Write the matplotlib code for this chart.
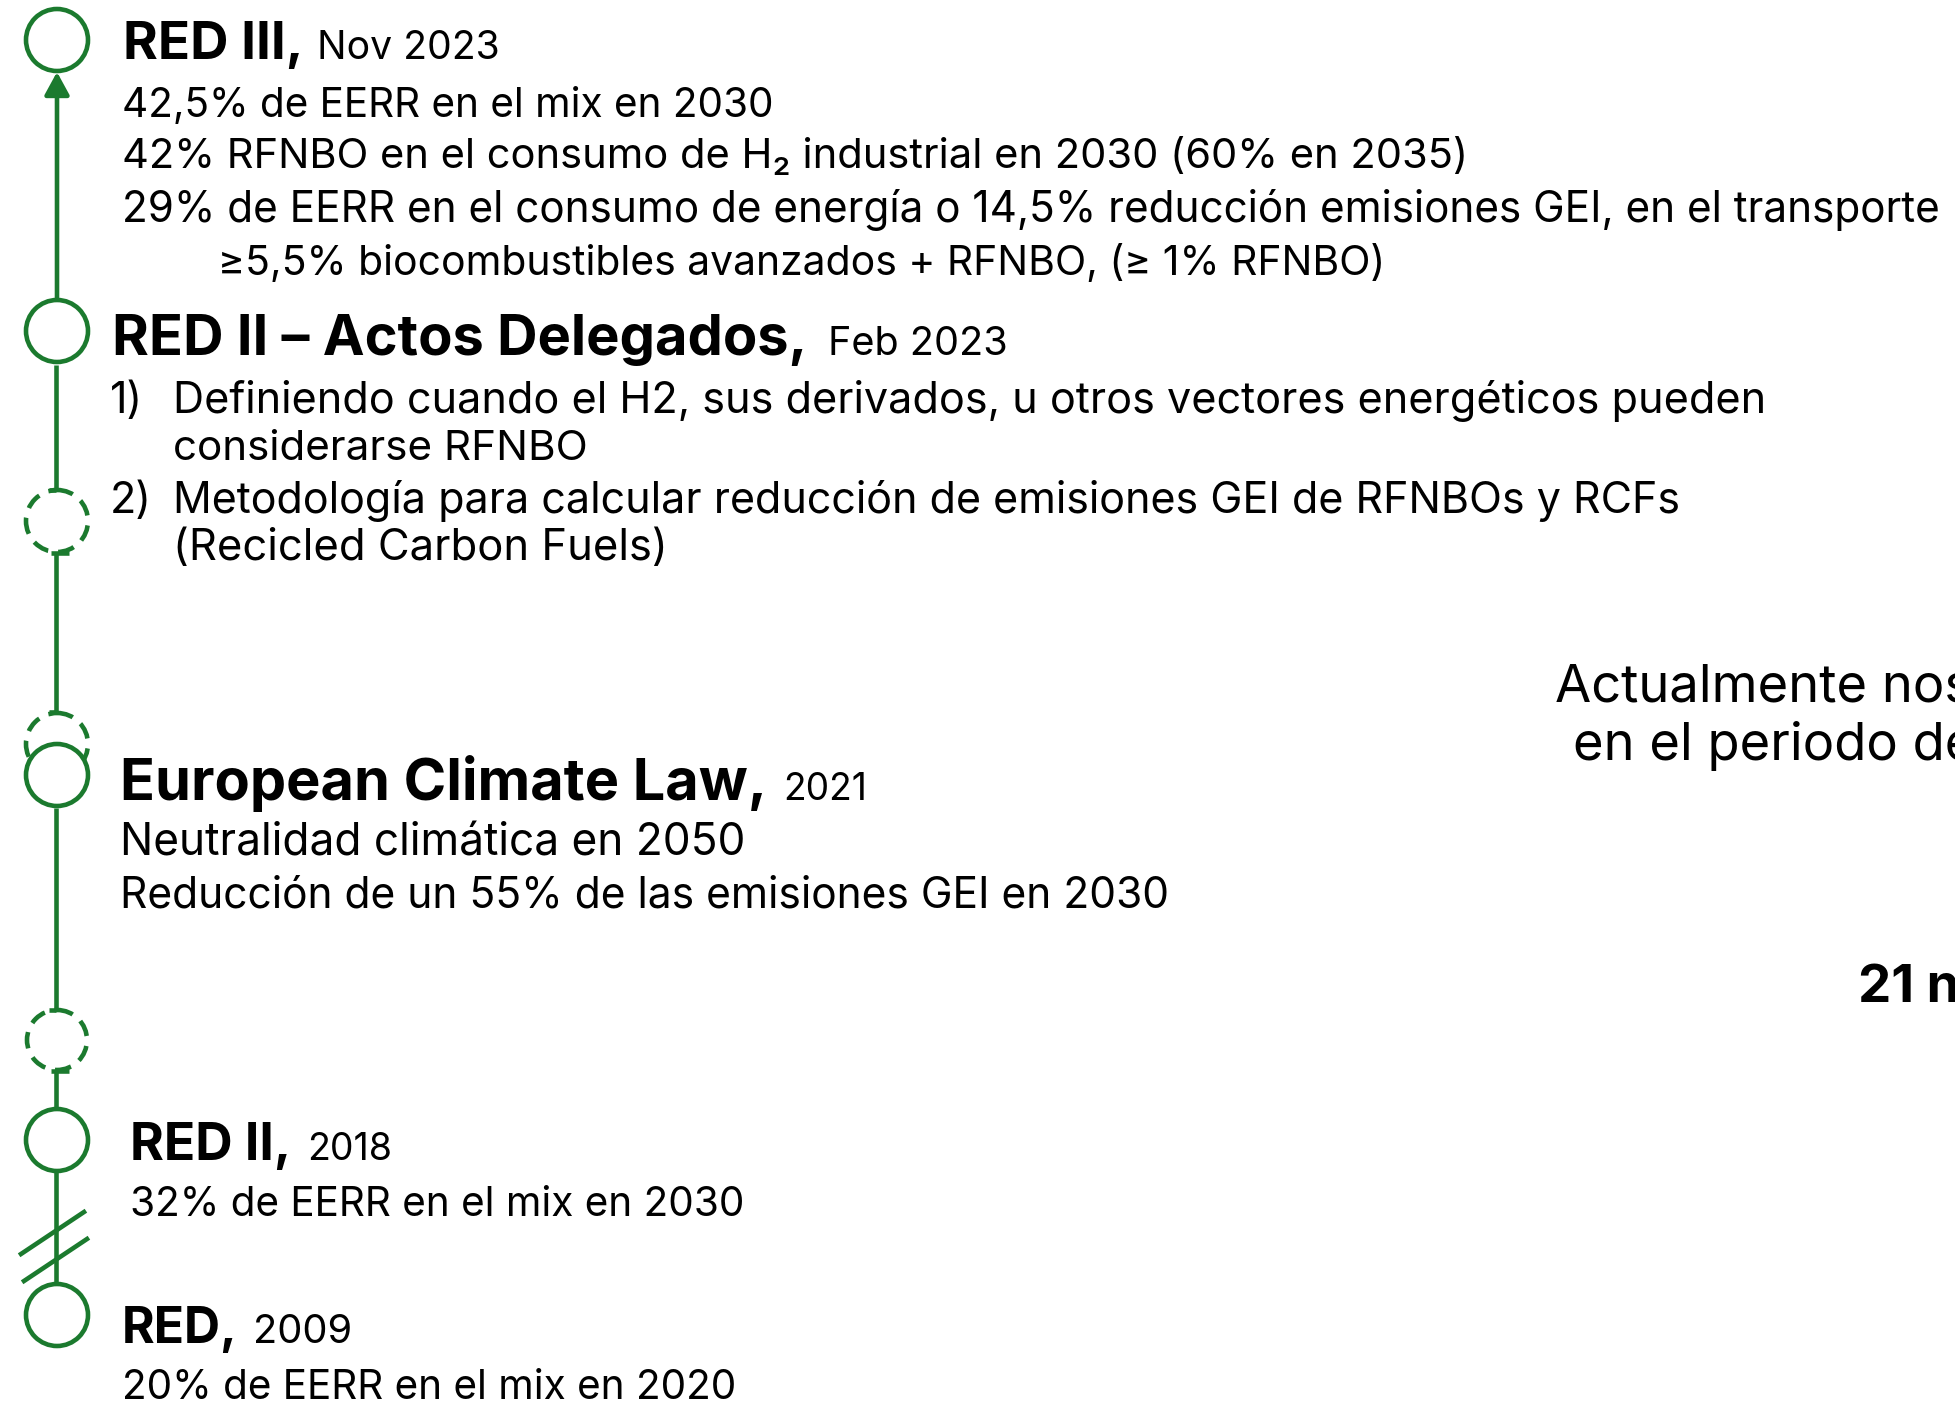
import matplotlib
matplotlib.use("Agg")
import matplotlib.pyplot as plt
from matplotlib.patches import Circle

# ---------------- data ----------------
titles = ["RED III,", "RED II – Actos Delegados,", "European Climate Law,", "RED II,", "RED,"]
dates = ["Nov 2023", "Feb 2023", "2021", "2018", "2009"]
red3_lines = [
    "42,5% de EERR en el mix en 2030",
    "42% RFNBO en el consumo de H₂ industrial en 2030 (60% en 2035)",
    "29% de EERR en el consumo de energía o 14,5% reducción emisiones GEI, en el transporte",
    "≥5,5% biocombustibles avanzados + RFNBO, (≥ 1% RFNBO)",
]
actos_numbers = ["1)", "2)"]
actos_lines = [
    "Definiendo cuando el H2, sus derivados, u otros vectores energéticos pueden",
    "considerarse RFNBO",
    "Metodología para calcular reducción de emisiones GEI de RFNBOs y RCFs",
    "(Recicled Carbon Fuels)",
]
ecl_lines = ["Neutralidad climática en 2050", "Reducción de un 55% de las emisiones GEI en 2030"]
red2_lines = ["32% de EERR en el mix en 2030"]
red_lines = ["20% de EERR en el mix en 2020"]
side_lines = ["Actualmente nos", "en el periodo de"]
side_big = "21 n"

# node styles along the timeline, top to bottom
node_styles = ["solid", "solid", "dashed", "dashed", "solid", "dashed", "solid", "solid"]

# ---------------- layout ----------------
W, H = 1956, 1404
GREEN = "#1b7a2e"
FAM = ["Inter", "DejaVu Sans"]
LW = 3.3

fig = plt.figure(figsize=(W / 100, H / 100), dpi=100)
ax = fig.add_axes([0, 0, 1, 1])
ax.set_xlim(0, W)
ax.set_ylim(H, 0)
ax.axis("off")
renderer = fig.canvas.get_renderer()


def fit(x, y, s, width, weight="normal", color="black", ref=None):
    """Place text at baseline (x, y), sized so that `ref` (or s) spans `width` px."""
    probe = ax.text(0, 0, ref if ref is not None else s, fontsize=20,
                    fontweight=weight, family=FAM)
    bb = probe.get_window_extent(renderer)
    probe.remove()
    size = 20 * width / bb.width
    return ax.text(x, y, s, fontsize=size, fontweight=weight, family=FAM,
                   ha="left", va="baseline", color=color, zorder=5)


# ---- timeline ----
XC = 57
node_y = [40, 331, 521, 744, 775, 1040, 1140, 1315]
node_r = [31, 31, 31, 31, 31, 30, 31, 31]
for y, r, st in zip(node_y, node_r, node_styles):
    if st == "solid":
        ax.add_patch(Circle((XC, y), r, facecolor="white", edgecolor=GREEN,
                            lw=LW, zorder=4))
    else:
        ax.add_patch(Circle((XC, y), r, fill=False, edgecolor=GREEN, lw=LW,
                            linestyle=(0, (3.6, 2.2)), zorder=3))

# connecting segments
segments = [(365, 490), (553, 712), (808, 1010), (1071, 1108), (1172, 1284)]
for y0, y1 in segments:
    ax.plot([XC - 1, XC - 1], [y0, y1], color=GREEN, lw=LW, solid_capstyle="butt", zorder=2)
# small kinks where the line meets dashed circles
for yk in (490, 712, 1010):
    ax.plot([XC - 8, XC - 1], [yk, yk], color=GREEN, lw=LW, solid_capstyle="butt", zorder=2)
for yk in (553, 1071):
    ax.plot([XC - 6, XC + 12], [yk, yk], color=GREEN, lw=LW, solid_capstyle="butt", zorder=2)

# arrow between RED II-Actos and RED III
ax.annotate("", xy=(XC, 72), xytext=(XC, 299),
            arrowprops=dict(arrowstyle="-|>,head_length=0.55,head_width=0.3",
                            color=GREEN, lw=LW, shrinkA=0, shrinkB=0,
                            mutation_scale=25), zorder=3)

# break marks
ax.plot([21, 84], [1254, 1212], color=GREEN, lw=LW, zorder=3)
ax.plot([24, 87], [1281, 1239], color=GREEN, lw=LW, zorder=3)

# ---- text blocks ----
# RED III
fit(123, 59, titles[0], 181, weight="bold")
fit(317, 59, dates[0], 183)
for (y, w, x), s in zip([(117, 653, 122), (168, 1347, 122), (222, 1820, 122), (275, 1169, 218)], red3_lines):
    fit(x, y, s, w)

# RED II - Actos delegados
fit(112, 355, titles[1], 697, weight="bold")
fit(828, 355, dates[1], 180)
item_texts = []
for (y, w), s in zip([(413, 1590), (460, 415), (513, 1509), (560, 494)], actos_lines):
    item_texts.append(fit(173, y, s, w))
num_size = item_texts[0].get_fontsize()
for y, s in zip((413, 513), actos_numbers):
    ax.text(110, y, s, fontsize=num_size, family=FAM, ha="left", va="baseline",
            color="black", zorder=5)

# European Climate Law
fit(120, 800, titles[2], 648, weight="bold")
fit(783, 800, dates[2], 84)
for (y, w), s in zip([(855, 626), (908, 1049)], ecl_lines):
    fit(120, y, s, w)

# RED II
fit(130, 1160, titles[3], 162, weight="bold")
fit(307, 1160, dates[3], 85)
fit(130, 1216, red2_lines[0], 616)

# RED
fit(122, 1343, titles[4], 116, weight="bold")
fit(253, 1343, dates[4], 99)
fit(122, 1399, red_lines[0], 616)

# right-side partial texts (cut at the right edge, as in the reference)
t1 = fit(1555, 702, side_lines[0], 312, ref="Actualmente")
ax.text(1573, 760, side_lines[1], fontsize=t1.get_fontsize(), family=FAM,
        ha="left", va="baseline", color="black", zorder=5)
ax.text(1858, 1002, side_big, fontsize=38, fontweight="bold", family=FAM,
        ha="left", va="baseline", color="black", zorder=5)

fig.savefig("out.png", dpi=100, facecolor="white")
